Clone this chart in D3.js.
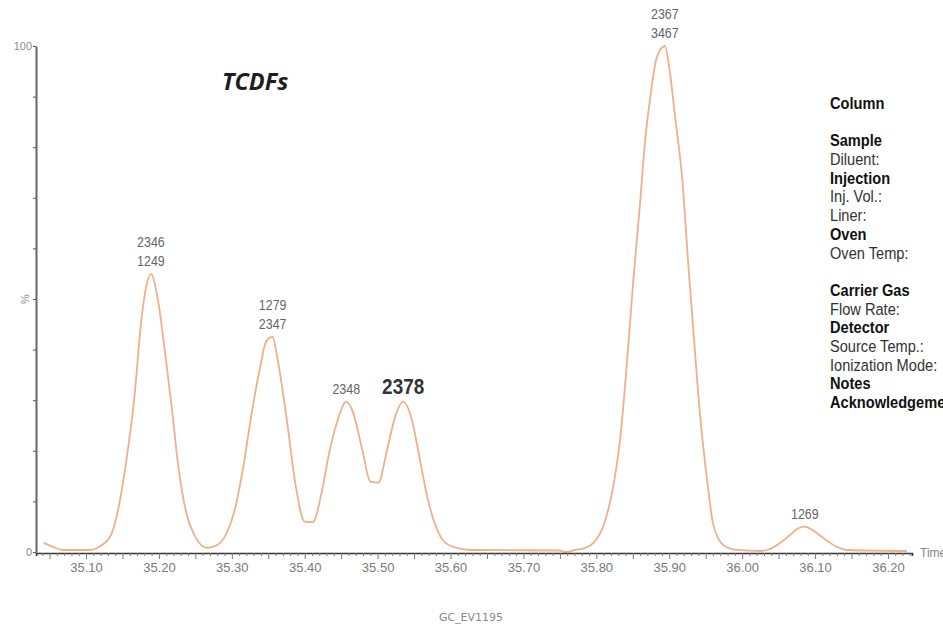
<!DOCTYPE html>
<html>
<head>
<meta charset="utf-8">
<script src="https://cdn.jsdelivr.net/npm/d3@7/dist/d3.min.js"></script>
<style>
   body { margin: 0; background: #fff; }
   svg { display: block; }
   .narrow { font-family: "Liberation Sans", Arial, sans-serif; }
</style>
</head>
<body>
<div id="chart"></div>
<script>
// establish sizes
const wide = 943;
const high = 626;
const squeeze = 0.86; // condensed look for the labels

// trace: retention time (min) and relative abundance (%)
const times = [
   35.042, 35.055, 35.068, 35.106, 35.115, 35.133, 35.144, 35.156, 35.165, 35.177,
   35.181, 35.189, 35.199, 35.208, 35.218, 35.226, 35.239, 35.250, 35.266, 35.280,
   35.293, 35.304, 35.315, 35.328, 35.339, 35.347, 35.356, 35.363, 35.376, 35.387,
   35.400, 35.411, 35.424, 35.433, 35.444, 35.457, 35.466, 35.479, 35.490, 35.501,
   35.513, 35.524, 35.535, 35.547, 35.558, 35.569, 35.582, 35.593, 35.609, 35.627,
   35.750, 35.757, 35.771, 35.785, 35.796, 35.809, 35.823, 35.833, 35.842, 35.850,
   35.860, 35.867, 35.874, 35.883, 35.894, 35.901, 35.908, 35.918, 35.926, 35.933,
   35.942, 35.952, 35.960, 35.974, 35.993, 36.025, 36.038, 36.052, 36.066, 36.077,
   36.086, 36.097, 36.111, 36.130, 36.144, 36.226
];
const abundance = [
   1.8, 1.0, 0.4, 0.4, 0.8, 3.0, 8.3, 18.8, 28.7, 47.2,
   51.2, 54.9, 49.5, 39.9, 28.1, 17.6, 6.9, 3.0, 0.8, 1.4,
   3.8, 8.3, 16.2, 28.1, 36.6, 41.6, 42.5, 37.9, 25.5, 13.6,
   6.0, 5.9, 12.3, 19.2, 25.5, 29.7, 27.7, 20.2, 13.9, 13.7,
   20.2, 26.7, 29.7, 26.1, 18.2, 10.3, 4.3, 1.8, 0.8, 0.4,
   0.3, 0.0, 0.4, 0.8, 1.8, 4.9, 12.8, 22.7, 37.4, 52.4,
   69.0, 81.4, 89.9, 97.8, 100, 94.7, 86.0, 73.5, 57.1, 43.9,
   27.5, 14.2, 5.7, 1.4, 0.4, 0.2, 0.6, 1.8, 3.4, 4.7,
   5.0, 4.3, 2.8, 1.0, 0.4, 0.2
];

// peak annotations (congener labels, top line first)
const peakTimes = [35.189, 35.356, 35.457, 35.535, 35.894, 36.086];
const peakHeights = [54.9, 42.5, 29.7, 29.7, 100, 5.0];
const peakLabels = [["2346", "1249"], ["1279", "2347"], ["2348"], ["2378"], ["2367", "3467"], ["1269"]];
const highlighted = "2378";

// axis ticks
const xTicks = [35.1, 35.2, 35.3, 35.4, 35.5, 35.6, 35.7, 35.8, 35.9, 36.0, 36.1, 36.2];
const yTicks = [0, 10, 20, 30, 40, 50, 60, 70, 80, 90, 100];

// method panel
const panelLines = [
   ["Column", true], ["", false], ["Sample", true], ["Diluent:", false], ["Injection", true],
   ["Inj. Vol.:", false], ["Liner:", false], ["Oven", true], ["Oven Temp:", false], ["", false],
   ["Carrier Gas", true], ["Flow Rate:", false], ["Detector", true], ["Source Temp.:", false],
   ["Ionization Mode:", false], ["Notes", true], ["Acknowledgements", true]
];

// create the SVG
var svg = d3.select("#chart")
   .append("svg")
   .attr("width", wide)
   .attr("height", high);

const xScale = d3.scaleLinear().domain([35.0314, 36.233]).range([36, 912]);
const yScale = d3.scaleLinear().domain([0, 100]).range([552, 46]);

// trace
const trace = d3.line()
   .x((d) => xScale(d[0]))
   .y((d) => yScale(d[1]))
   .curve(d3.curveMonotoneX);

svg.append("path")
   .datum(times.map((t, i) => [t, abundance[i]]))
   .attr("d", trace)
   .attr("fill", "none")
   .attr("stroke", "#efb08c")
   .attr("stroke-width", 1.8);

// Y axis
const yAxis = d3.axisLeft(yScale)
   .tickValues(yTicks)
   .tickSize(3)
   .tickSizeOuter(0)
   .tickFormat((d) => (d === 0 || d === 100 ? d : ""));

var yG = svg.append("g")
   .attr("transform", "translate(36, 0)")
   .call(yAxis);
yG.select(".domain").attr("stroke", "#666").attr("stroke-width", 2);
yG.selectAll(".tick line").attr("stroke", "#555");
yG.selectAll(".tick text")
   .attr("x", -4)
   .attr("fill", "#8a8a8a")
   .attr("font-family", "Liberation Sans, Arial, sans-serif")
   .attr("font-size", 11);

svg.append("text")
   .attr("transform", "translate(29," + yScale(50) + ") rotate(-90)")
   .attr("text-anchor", "middle")
   .attr("fill", "#888")
   .attr("font-family", "Liberation Sans, Arial, sans-serif")
   .attr("font-size", 11)
   .text("%");

// X axis: minor ticks every 0.01, mid every 0.05, labels every 0.1
const minor = d3.range(35.04, 36.235, 0.01);
const xAxis = d3.axisBottom(xScale)
   .tickValues(minor)
   .tickSizeOuter(0)
   .tickSize(3)
   .tickFormat("");

var xG = svg.append("g")
   .attr("transform", "translate(0, 553)")
   .call(xAxis);
xG.select(".domain").attr("stroke", "#333").attr("stroke-width", 1.6);
xG.selectAll(".tick line")
   .attr("stroke", "#777")
   .attr("y2", (d) => (Math.round(d * 100) % 5 === 0 ? 6 : 3));

const xLabels = d3.axisBottom(xScale)
   .tickValues(xTicks)
   .tickSize(0)
   .tickFormat(d3.format(".2f"));

var xL = svg.append("g")
   .attr("transform", "translate(0, 553)")
   .call(xLabels);
xL.select(".domain").remove();
xL.selectAll(".tick text")
   .attr("y", 10)
   .attr("fill", "#7a7a7a")
   .attr("font-family", "Liberation Sans, Arial, sans-serif")
   .attr("font-size", 13);

svg.append("text")
   .attr("x", 920)
   .attr("y", 557)
   .attr("fill", "#888")
   .attr("font-family", "Liberation Sans, Arial, sans-serif")
   .attr("font-size", 12)
   .text("Time");

// peak labels
peakLabels.forEach((lines, i) => {
   const px = xScale(peakTimes[i]);
   const py = yScale(peakHeights[i]) - 8;
   lines.forEach((txt, j) => {
      const big = txt === highlighted;
      svg.append("text")
         .attr("class", "narrow")
         .attr("transform", "translate(" + px + "," + (py - (lines.length - 1 - j) * 19) + ") scale(" + squeeze + ",1)")
         .attr("text-anchor", "middle")
         .attr("fill", big ? "#333" : "#666")
         .attr("font-size", big ? 22 : 14.5)
         .attr("font-weight", big ? "bold" : "normal")
         .text(txt);
   });
});

// title
svg.append("text")
   .attr("x", 222)
   .attr("y", 90)
   .attr("font-family", "Open Sans, sans-serif")
   .attr("font-weight", "bold")
   .attr("font-style", "italic")
   .attr("font-size", 23.5)
   .attr("fill", "#1e1e1e")
   .text("TCDFs");

// method panel
svg.append("g")
   .attr("transform", "translate(830, 0) scale(" + squeeze + ",1)")
   .selectAll("text")
   .data(panelLines)
   .enter()
   .append("text")
   .attr("class", "narrow")
   .attr("x", 0)
   .attr("y", (d, i) => 109 + i * 18.7)
   .attr("font-size", 17)
   .attr("font-weight", (d) => (d[1] ? "bold" : "normal"))
   .attr("fill", (d) => (d[1] ? "#111" : "#333"))
   .text((d) => d[0]);

// footer code
svg.append("text")
   .attr("x", 471)
   .attr("y", 621)
   .attr("text-anchor", "middle")
   .attr("fill", "#8a8a8a")
   .attr("font-family", "DejaVu Sans, sans-serif")
   .attr("font-size", 11)
   .text("GC_EV1195");
</script>
</body>
</html>
